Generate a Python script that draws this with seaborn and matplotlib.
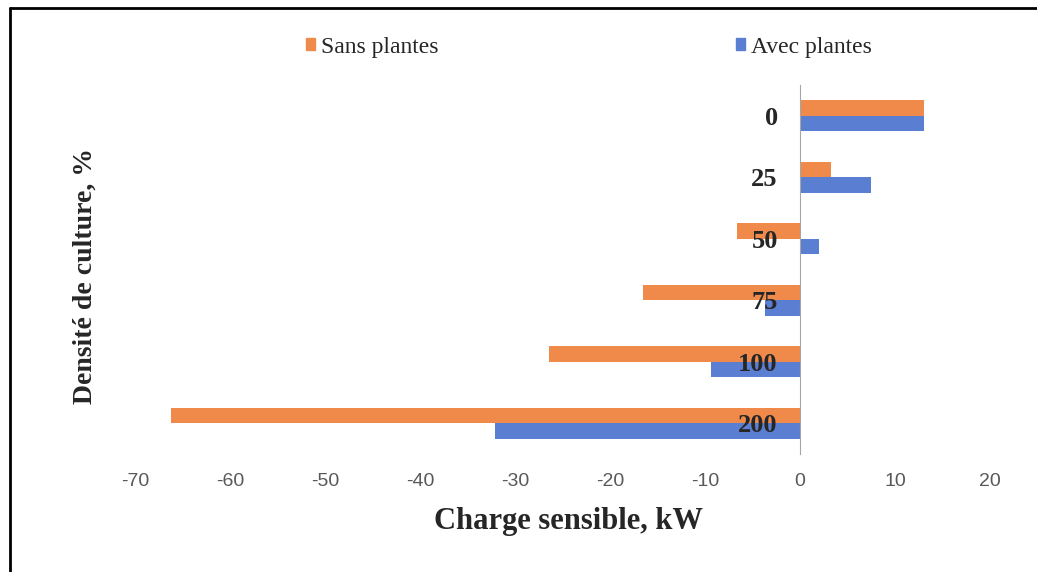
import matplotlib
matplotlib.use("Agg")
import matplotlib.pyplot as plt
import matplotlib.patches as mpatches
import pandas as pd
import seaborn as sns

# --- data ---
densities = ["0", "25", "50", "75", "100", "200"]
sans_plantes = [13.0, 3.3, -6.6, -16.5, -26.4, -66.2]
avec_plantes = [13.1, 7.5, 2.0, -3.7, -9.4, -32.1]
series_names = ["Sans plantes", "Avec plantes"]
x_ticks = [-70, -60, -50, -40, -30, -20, -10, 0, 10, 20]

df = pd.DataFrame({
    "Densite": densities * 2,
    "Charge": sans_plantes + avec_plantes,
    "Serie": [series_names[0]] * len(densities) + [series_names[1]] * len(densities),
})

sns.set_style("white")
serif = ["Liberation Serif", "DejaVu Serif"]
palette = {"Sans plantes": "#F08A4B", "Avec plantes": "#5A7FD2"}

fig = plt.figure(figsize=(10.37, 5.72), dpi=100)
ax = fig.add_axes([135 / 1037, 1 - 454 / 572, (990 - 135) / 1037, (454 - 85) / 572])

sns.barplot(data=df, x="Charge", y="Densite", hue="Serie", order=densities,
            hue_order=series_names, palette=palette, orient="h", width=0.5,
            saturation=1, linewidth=0, ax=ax, legend=False)

ax.set_xlim(-70, 20)
ax.set_ylim(5.5, -0.5)
ax.set_xticks(x_ticks)
ax.set_xticklabels([str(t) for t in x_ticks], fontsize=14, color="#595959",
                   family=["Liberation Sans", "DejaVu Sans"])

# vertical axis sits at x = 0, labels drawn over the bars next to it
ax.set_axisbelow(False)
ax.spines["left"].set_position(("data", 0))
ax.spines["left"].set_color("#A6A6A6")
for s in ["top", "right", "bottom"]:
    ax.spines[s].set_visible(False)
ax.tick_params(axis="y", length=0, pad=16)
ax.tick_params(axis="x", length=0, pad=14)
for lbl in ax.get_yticklabels():
    lbl.set_fontsize(19)
    lbl.set_fontweight("bold")
    lbl.set_family(serif)
ax.set_ylabel("")
ax.set_xlabel("")

fig.text(568 / 1037, 1 - 522 / 572, "Charge sensible, kW", ha="center", va="center",
         fontsize=22, fontweight="bold", family=serif)
fig.text(85 / 1037, 1 - 276 / 572, "Densité de culture, %", ha="center", va="center",
         rotation=90, fontsize=20, fontweight="bold", family=serif)

handles = [mpatches.Patch(color=palette[n], label=n) for n in series_names]
fig.legend(handles=handles, loc="center", bbox_to_anchor=(589 / 1037, 1 - 47 / 572),
           ncol=2, frameon=False, prop={"family": serif, "size": 17},
           handlelength=0.38, handleheight=0.38, handletextpad=0.25, columnspacing=12.6)

# outer frame (only top and left edges visible in the reference)
fig.add_artist(plt.Line2D([10 / 1037, 1.0], [1 - 8 / 572, 1 - 8 / 572], color="black", lw=2,
                          transform=fig.transFigure))
fig.add_artist(plt.Line2D([10 / 1037, 10 / 1037], [0, 1 - 8 / 572], color="black", lw=2,
                          transform=fig.transFigure))

fig.savefig("out.png", dpi=100)
